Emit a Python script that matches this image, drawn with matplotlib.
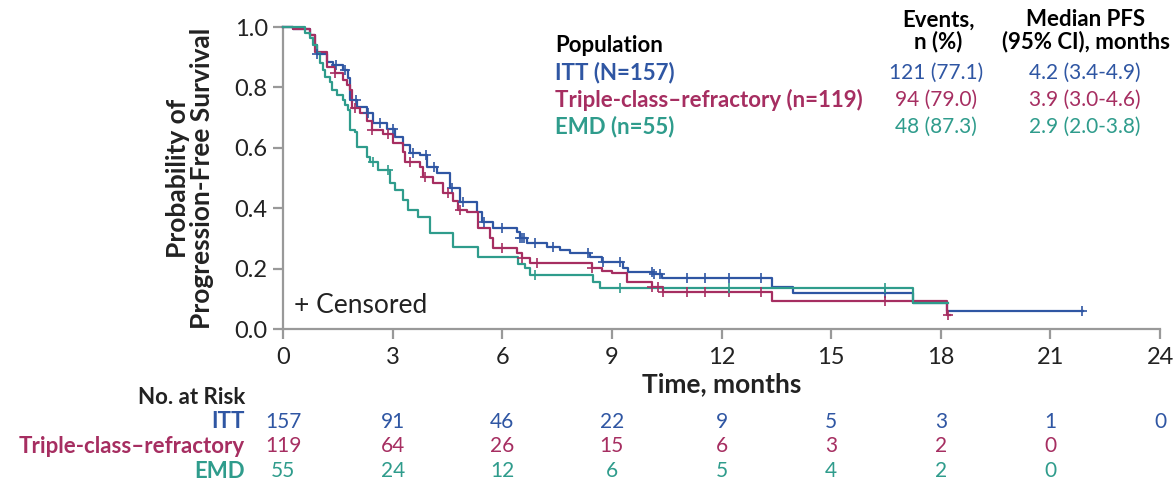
import numpy as np
import matplotlib
matplotlib.use("Agg")
import matplotlib.pyplot as plt
from matplotlib.transforms import blended_transform_factory

plt.rcParams['font.family'] = ['Lato', 'DejaVu Sans']

# Kaplan-Meier step curves: time of each drop (months) and survival after it
itt_t = [0.27, 0.74, 0.88, 0.93, 1.20, 1.37, 1.64, 1.78, 1.83, 2.03, 2.30, 2.46, 2.85, 3.07,
         3.28, 3.48, 3.75, 3.94, 4.21, 4.57, 4.84, 5.31, 5.45, 5.75, 6.40, 6.49, 6.68, 7.22,
         7.58, 7.85, 8.40, 8.73, 9.30, 9.44, 10.13, 10.37, 13.38, 13.96, 17.24, 18.17]
itt_s = [0.993, 0.974, 0.94, 0.91, 0.884, 0.874, 0.858, 0.831, 0.758, 0.735, 0.715, 0.682, 0.662, 0.636,
         0.609, 0.583, 0.576, 0.536, 0.517, 0.468, 0.421, 0.387, 0.354, 0.334, 0.321, 0.301, 0.285, 0.272,
         0.262, 0.252, 0.238, 0.222, 0.202, 0.189, 0.182, 0.169, 0.139, 0.119, 0.086, 0.060]
itt_end = 21.9
itt_cens = [0.93, 1.45, 1.70, 2.00, 2.33, 2.65, 3.01, 3.56, 3.91, 4.13, 4.63, 4.93, 5.50, 5.99,
            6.49, 6.54, 6.60, 6.90, 7.39, 8.35, 8.76, 9.22, 10.10, 10.15, 10.32, 11.06, 11.55,
            12.21, 13.08, 16.47, 21.87]

tcr_t = [0.27, 0.74, 0.88, 1.20, 1.42, 1.64, 1.75, 1.83, 1.89, 2.11, 2.30, 2.44, 2.74, 3.01,
         3.28, 3.34, 3.75, 3.83, 4.11, 4.38, 4.65, 4.79, 5.04, 5.34, 5.67, 5.75, 6.40, 6.54,
         6.76, 8.46, 8.73, 9.00, 9.41, 10.10, 10.40, 13.38, 18.17]
tcr_s = [0.993, 0.974, 0.917, 0.868, 0.848, 0.825, 0.808, 0.79, 0.732, 0.715, 0.690, 0.660, 0.645, 0.616,
         0.586, 0.553, 0.536, 0.503, 0.483, 0.450, 0.425, 0.394, 0.387, 0.334, 0.301, 0.268, 0.252, 0.235,
         0.219, 0.202, 0.192, 0.185, 0.156, 0.139, 0.123, 0.094, 0.047]
tcr_end = 18.25
tcr_cens = [1.42, 1.97, 2.44, 2.87, 3.48, 3.89, 4.52, 4.84, 5.99, 6.54, 6.95, 8.46, 10.10,
            10.26, 10.40, 11.06, 11.55, 12.21, 13.08, 16.47, 18.2]

emd_t = [0.60, 0.74, 0.82, 0.93, 1.01, 1.09, 1.15, 1.29, 1.34, 1.48, 1.64, 1.70, 1.78, 1.83,
         1.97, 2.03, 2.30, 2.38, 2.60, 2.93, 3.07, 3.28, 3.42, 3.69, 4.02, 4.65, 5.34, 6.43,
         6.62, 6.76, 8.48, 8.68, 17.24]
emd_s = [0.98, 0.962, 0.94, 0.914, 0.88, 0.857, 0.834, 0.818, 0.791, 0.776, 0.758, 0.742, 0.725, 0.659,
         0.652, 0.603, 0.570, 0.553, 0.526, 0.483, 0.460, 0.427, 0.394, 0.371, 0.318, 0.272, 0.238, 0.215,
         0.202, 0.179, 0.156, 0.136, 0.087]
emd_end = 18.2
emd_cens = [2.46, 2.87, 6.90, 9.22, 12.21, 16.47]

# Summary table
groups = ['ITT (N=157)', 'Triple-class\u2013refractory (n=119)', 'EMD (n=55)']
events = ['121 (77.1)', '94 (79.0)', '48 (87.3)']
median_pfs = ['4.2 (3.4-4.9)', '3.9 (3.0-4.6)', '2.9 (2.0-3.8)']

# Numbers at risk
risk_times = [0, 3, 6, 9, 12, 15, 18, 21, 24]
risk_labels = ['ITT', 'Triple-class\u2013refractory', 'EMD']
risk_itt = [157, 91, 46, 22, 9, 5, 3, 1, 0]
risk_tcr = [119, 64, 26, 15, 6, 3, 2, 0]
risk_emd = [55, 24, 12, 6, 5, 4, 2, 0]

BLUE = '#2f56a3'
RED = '#a62e61'
GREEN = '#2f9c8c'
GREY = '#999999'
INK = '#222222'

BOLD_FS = 16
REG_FS = 14.5

W, H = 1176, 483
fig = plt.figure(figsize=(W / 100, H / 100), dpi=100)


def fx(x):
    return x / W


def fy(y):
    return 1 - y / H


ax = fig.add_axes([fx(283), fy(329), fx(1160) - fx(283), fy(27) - fy(329)])

curves = [
    (itt_t, itt_s, itt_end, itt_cens, BLUE),
    (tcr_t, tcr_s, tcr_end, tcr_cens, RED),
    (emd_t, emd_s, emd_end, emd_cens, GREEN),
]
for t, s, t_end, cens, col in curves:
    tt = np.r_[0.0, t, t_end]
    ss = np.r_[1.0, s, s[-1]]
    ax.step(tt, ss, where='post', color=col, lw=1.6, clip_on=False, zorder=3)
    cens = np.asarray(cens)
    idx = np.searchsorted(tt, cens, side='right') - 1
    ax.plot(cens, ss[idx], ls='none', marker='+', ms=7, mew=1.2, color=col,
            clip_on=False, zorder=4)

ax.set_xlim(0, 24)
ax.set_ylim(0, 1.0)
ax.set_xticks(risk_times)
ax.set_xticklabels([str(v) for v in risk_times])
ax.set_yticks(np.arange(0, 1.01, 0.2))
ax.set_yticklabels([f'{v:.1f}' for v in np.arange(0, 1.01, 0.2)])
for side in ('top', 'right'):
    ax.spines[side].set_visible(False)
for side in ('left', 'bottom'):
    ax.spines[side].set_color(GREY)
    ax.spines[side].set_linewidth(1.6)
ax.tick_params(axis='both', direction='out', length=7, width=1.6, color=GREY,
               labelsize=17, labelcolor=INK, pad=4)
ax.tick_params(axis='x', pad=6)

ax.set_xlabel('Time, months', fontsize=19, fontweight='bold', color=INK, labelpad=3)
ax.set_ylabel('Probability of\nProgression-Free Survival', fontsize=19, fontweight='bold',
              color=INK, linespacing=1.0, labelpad=15)

ax.text(0.013, 0.078, '+ Censored', transform=ax.transAxes, fontsize=19, color=INK,
        va='center', ha='left')

# summary table at top right
colors = [BLUE, RED, GREEN]
fig.text(fx(555), fy(45), 'Population', fontsize=BOLD_FS, fontweight='bold', color='black',
         ha='left', va='center')
fig.text(fx(938), fy(31), 'Events,\nn (%)', fontsize=BOLD_FS, fontweight='bold', color='black',
         ha='center', va='center', linespacing=1.05)
fig.text(fx(1086), fy(31), 'Median PFS\n(95% CI), months', fontsize=BOLD_FS, fontweight='bold',
         color='black', ha='center', va='center', linespacing=1.05)
for i, (g, e, m) in enumerate(zip(groups, events, median_pfs)):
    y = fy(73 + 27 * i)
    fig.text(fx(555), y, g, fontsize=BOLD_FS, fontweight='bold', color=colors[i], ha='left', va='center')
    fig.text(fx(936), y, e, fontsize=REG_FS + 0.5, color=colors[i], ha='center', va='center')
    fig.text(fx(1085), y, m, fontsize=REG_FS + 0.5, color=colors[i], ha='center', va='center')

# numbers-at-risk table
trans = blended_transform_factory(ax.transData, fig.transFigure)
fig.text(fx(245), fy(397), 'No. at Risk', fontsize=BOLD_FS, fontweight='bold', color=INK,
         ha='right', va='center')
for i, (lab, vals) in enumerate(zip(risk_labels, [risk_itt, risk_tcr, risk_emd])):
    y = fy(422 + 24.5 * i)
    fig.text(fx(245), y, lab, fontsize=BOLD_FS, fontweight='bold', color=colors[i], ha='right', va='center')
    for t, v in zip(risk_times, vals):
        ax.text(t, y, str(v), transform=trans, fontsize=REG_FS + 0.5, color=colors[i],
                ha='center', va='center')

fig.savefig('out.png', dpi=100)
